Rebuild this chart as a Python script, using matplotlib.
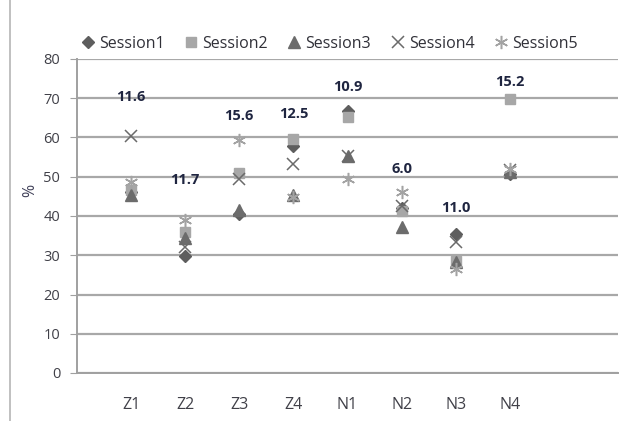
import matplotlib.pyplot as plt
from matplotlib.lines import Line2D

categories = ['Z1', 'Z2', 'Z3', 'Z4', 'N1', 'N2', 'N3', 'N4']
session1 = [46.0, 29.7, 40.6, 57.9, 66.8, 42.0, 35.3, 50.6]
session2 = [46.6, 35.8, 50.9, 59.6, 65.2, 41.3, 28.5, 69.8]
session3 = [45.3, 34.5, 41.5, 45.3, 55.4, 37.2, 28.2, 51.2]
session4 = [60.4, 32.2, 49.4, 53.2, 55.3, 42.6, 33.4, 51.6]
session5 = [48.6, 39.0, 59.4, 44.8, 49.4, 46.0, 26.5, 52.0]
label_texts = ['11.6', '11.7', '15.6', '12.5', '10.9', '6.0', '11.0', '15.2']
label_y = [70.4, 49.2, 65.4, 66.1, 72.9, 52.0, 42.0, 74.2]

plt.rcParams['font.family'] = ['Open Sans', 'DejaVu Sans']

fig = plt.figure(figsize=(6.27, 4.21), dpi=100)
ax = fig.add_axes([77 / 627, 48 / 421, 541 / 627, 314 / 421])

xs = list(range(1, len(categories) + 1))
series = [
    ('Session1', session1, 'D', '#5e5e5e', 6.5, 1),
    ('Session2', session2, 's', '#a7a7a7', 7, 1),
    ('Session3', session3, '^', '#6c6c6c', 8, 1),
    ('Session4', session4, 'x', '#6a6a6a', 8.5, 1.1),
    ('Session5', session5, (6, 2, 0), '#a3a3a3', 9.5, 1.1),
]
for name, vals, m, c, ms, mew in series:
    ax.plot(xs, vals, linestyle='none', marker=m, color=c, markersize=ms,
            markeredgewidth=mew, label=name, zorder=3)

for x, t, y in zip(xs, label_texts, label_y):
    ax.text(x, y, t, ha='center', va='center', fontsize=10.5, fontweight='bold',
            color='#1f2540', zorder=4)

ax.set_xlim(0, 10)
ax.set_ylim(0, 80)
ax.set_yticks(range(0, 81, 10))
ax.set_xticks(xs)
ax.set_xticklabels(categories)
ax.yaxis.grid(True, color='#a8a8a8', linewidth=1.6)
ax.set_axisbelow(True)
for s in ['top', 'right']:
    ax.spines[s].set_visible(False)
ax.spines['left'].set_color('#a0a0a0')
ax.spines['bottom'].set_color('#a0a0a0')
ax.spines['left'].set_linewidth(1.4)
ax.spines['bottom'].set_linewidth(1.4)
ax.tick_params(axis='y', length=5, color='#a0a0a0', labelsize=10.5,
               labelcolor='#404048', pad=7)
ax.tick_params(axis='x', length=0, labelsize=11.5, labelcolor='#404048', pad=17)

fig.text(30 / 627, 1 - 190 / 421, '%', rotation=90, ha='center', va='center',
         fontsize=11.5, color='#404058')

fig.legend(loc='center', bbox_to_anchor=(0.525, 1 - 44 / 421), ncol=5,
           frameon=False, fontsize=11.5, handlelength=0.9, handletextpad=0.25,
           columnspacing=1.2, labelcolor='#303038')

fig.add_artist(Line2D([10 / 627, 10 / 627], [0, 1], transform=fig.transFigure,
                      color='#b5b5b5', linewidth=1.2))

fig.savefig('out.png', dpi=100)
